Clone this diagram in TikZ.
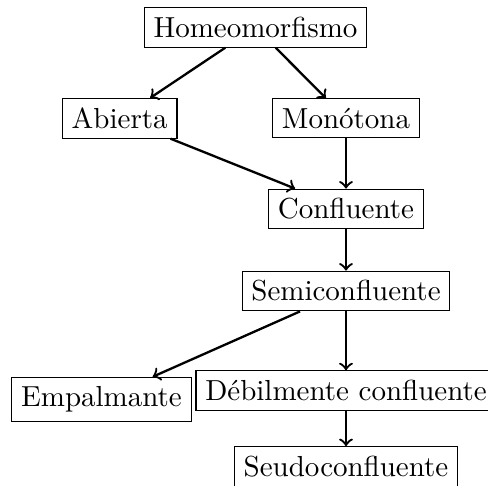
\documentclass[tikz,border=0pt]{standalone}
\begin{document}
\begin{tikzpicture}[x=0.345pt,y=-0.345pt,
  box/.style={draw,thin,rectangle,inner sep=3.2pt,font=\fontsize{10}{12}\selectfont},
  arr/.style={->,thick}]
\useasboundingbox (0,0) rectangle (488,485);
\node[box] (H) at (255.5,27.5) {Homeomorfismo};
\node[box] (A) at (119.7,118.3) {Abierta};
\node[box] (M) at (346,118.3) {Monótona};
\node[box] (C) at (346,209) {Confluente};
\node[box] (S) at (346,291) {Semiconfluente};
\node[box] (E) at (101.5,399.5) {Empalmante};
\node[box] (D) at (346,390.5) {Débilmente confluente};
\node[box] (P) at (346,466.5) {Seudoconfluente};
\draw[arr] (H) -- (A);
\draw[arr] (H) -- (M);
\draw[arr] (A) -- (C);
\draw[arr] (M) -- (C);
\draw[arr] (C) -- (S);
\draw[arr] (S) -- (E);
\draw[arr] (S) -- (D);
\draw[arr] (D) -- (P);
\end{tikzpicture}
\end{document}
